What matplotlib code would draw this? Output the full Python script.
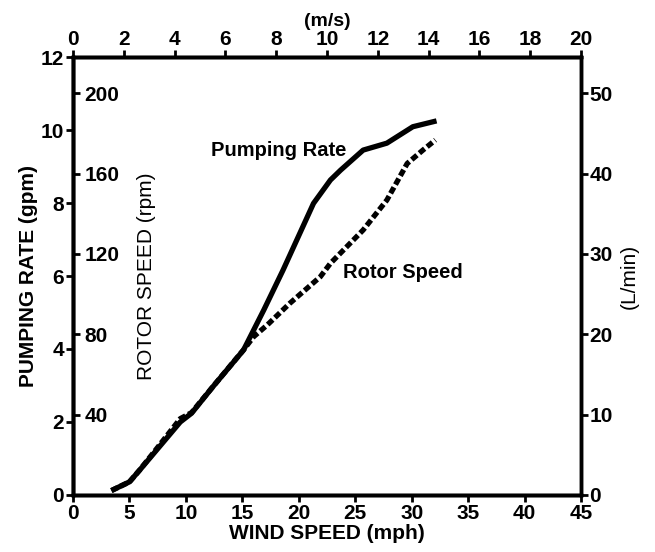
import matplotlib
matplotlib.use("Agg")
import matplotlib.pyplot as plt

plt.rcParams['font.family'] = ['Liberation Sans', 'DejaVu Sans']

# pumping rate (gpm) vs wind speed (mph)
pump_mph = [3.4, 5.0, 5.9, 7.4, 9.5, 10.5, 12.4, 15.1, 16.9, 18.6, 21.3, 22.8, 23.7, 25.7, 27.8, 30.1, 32.2]
pump_gpm = [0.12, 0.36, 0.68, 1.23, 2.0, 2.24, 2.97, 3.97, 5.07, 6.16, 7.99, 8.63, 8.9, 9.45, 9.64, 10.09, 10.25]

# rotor speed (rpm) vs wind speed (mph)
rotor_mph = [3.4, 5.0, 5.9, 7.4, 9.5, 10.5, 12.4, 15.1, 16.0, 17.2, 19.2, 21.9, 22.8, 25.7, 27.8, 29.6, 31.0, 32.1]
rotor_rpm = [2.2, 6.5, 12.4, 23.0, 38.0, 41.0, 54.0, 72.2, 78.8, 84.6, 95.4, 108.6, 115.3, 131.9, 146.8, 165.0, 171.7, 176.7]

mph_ticks = [0, 5, 10, 15, 20, 25, 30, 35, 40, 45]
ms_ticks = [0, 2, 4, 6, 8, 10, 12, 14, 16, 18, 20]
gpm_ticks = [0, 2, 4, 6, 8, 10, 12]
rpm_ticks = [40, 80, 120, 160, 200]
lmin_ticks = [0, 10, 20, 30, 40, 50]

fig = plt.figure(figsize=(6.55, 5.52), dpi=100)
ax = fig.add_axes([0.1115, 0.1033, 0.7756, 0.7934])

tick_kw = dict(length=5, width=2, labelsize=15)

ax.plot(pump_mph, pump_gpm, color='black', lw=3.8, solid_capstyle='butt')
ax.set_xlim(0, 45)
ax.set_ylim(0, 12)
ax.set_xticks(mph_ticks)
ax.set_yticks(gpm_ticks)
ax.tick_params(direction='out', pad=1.5, **tick_kw)
ax.set_xlabel('WIND SPEED (mph)', labelpad=1, fontsize=15, fontweight='bold')
ax.set_ylabel('PUMPING RATE (gpm)', labelpad=2, fontsize=15, fontweight='bold')

# top axis (m/s)
axt = ax.twiny()
axt.set_xlim(0, 20)
axt.set_xticks(ms_ticks)
axt.tick_params(direction='out', pad=1, **tick_kw)
axt.set_xlabel('(m/s)', labelpad=3, fontsize=14, fontweight='bold')

# right axis (L/min)
axr = ax.twinx()
axr.set_ylim(0, 54.5)
axr.set_yticks(lmin_ticks)
axr.tick_params(direction='out', pad=1, **tick_kw)
axr.set_ylabel('(L/min)', rotation=90, labelpad=5, fontsize=15)

# inner rotor speed axis, drawn on the left spine, ticks pointing in
axs = ax.twinx()
axs.spines['right'].set_position(('axes', 0))
axs.set_ylim(0, 218)
axs.set_yticks(rpm_ticks)
axs.tick_params(direction='out', pad=3, **tick_kw)
axs.plot(rotor_mph, rotor_rpm, color='black', lw=3.8, linestyle=(0, (1.3, 0.6)), dash_capstyle='butt')
axs.set_ylabel('ROTOR SPEED (rpm)', rotation=90, fontsize=15)
axs.yaxis.set_label_coords(0.126, 0.5)

for a in (ax, axt, axr, axs):
    for lbl in a.get_xticklabels() + a.get_yticklabels():
        lbl.set_fontweight('bold')
    for s in a.spines.values():
        s.set_linewidth(2.4)

ax.text(18.2, 9.45, 'Pumping Rate', fontsize=14.5, fontweight='bold', ha='center', va='center')
ax.text(29.2, 6.1, 'Rotor Speed', fontsize=14.5, fontweight='bold', ha='center', va='center')

fig.savefig('out.png', dpi=100)
